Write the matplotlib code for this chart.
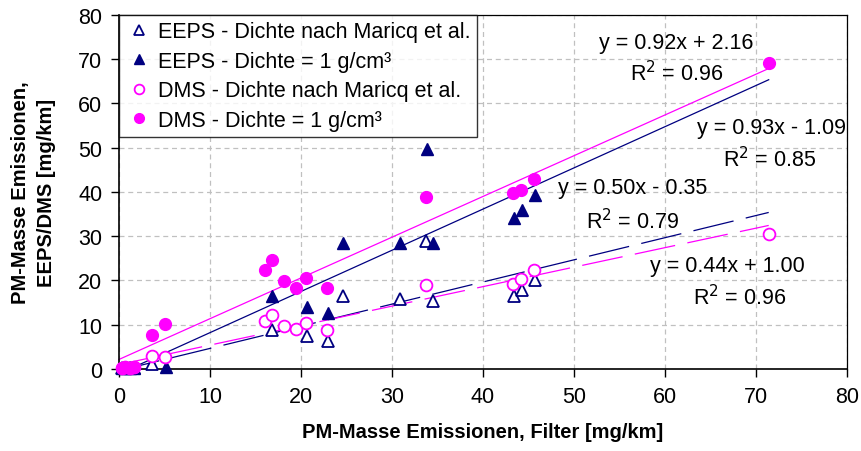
import numpy as np
import matplotlib
matplotlib.use("Agg")
import matplotlib.pyplot as plt

plt.rcParams["font.family"] = ["Liberation Sans", "DejaVu Sans"]

x_low = [0.3, 0.7, 1.2, 1.7]          # Punkte nahe Null
# EEPS - Dichte nach Maricq et al. (offene Dreiecke)
eeps_m_x = x_low + [3.6, 16.8, 20.7, 23.0, 24.6, 30.9, 33.7, 34.5, 43.4, 44.3, 45.7]
eeps_m_y = [0.2, 0.3, 0.2, 0.3] + [1.1, 8.8, 7.4, 6.3, 16.5, 15.8, 29.0, 15.4, 16.5, 17.8, 20.2]
# EEPS - Dichte = 1 g/cm3 (gefuellte Dreiecke)
eeps_1_x = x_low + [5.2, 16.8, 20.7, 23.0, 24.6, 30.9, 33.8, 34.5, 43.4, 44.3, 45.7]
eeps_1_y = [0.2, 0.3, 0.2, 0.3] + [0.5, 16.5, 13.9, 12.6, 28.4, 28.4, 49.7, 28.4, 34.0, 35.9, 39.3]
# DMS - Dichte nach Maricq et al. (offene Kreise)
dms_m_x = x_low + [3.6, 5.1, 16.0, 16.8, 18.1, 19.4, 20.6, 22.9, 33.7, 43.3, 44.2, 45.6, 71.4]
dms_m_y = [0.3, 0.4, 0.3, 0.4] + [2.9, 2.7, 10.8, 12.3, 9.8, 9.0, 10.3, 8.8, 19.0, 19.2, 20.3, 22.4, 30.5]
# DMS - Dichte = 1 g/cm3 (gefuellte Kreise)
dms_1_x = x_low + [3.6, 5.1, 16.0, 16.8, 18.1, 19.4, 20.6, 22.9, 33.7, 43.3, 44.2, 45.6, 71.4]
dms_1_y = [0.3, 0.4, 0.3, 0.4] + [7.7, 10.2, 22.3, 24.7, 19.9, 18.3, 20.6, 18.3, 38.8, 39.7, 40.5, 43.0, 69.1]

# Trendlinien (Steigung, Achsenabschnitt, R2) wie im Diagramm angegeben
fit_dms_1 = (0.92, 2.16, 0.96)
fit_eeps_1 = (0.93, -1.09, 0.85)
fit_eeps_m = (0.50, -0.35, 0.79)
fit_dms_m = (0.44, 1.00, 0.96)

navy = "#000080"
magenta = "#ff00ff"

fig = plt.figure(figsize=(8.61, 4.52), dpi=100)
ax = fig.add_axes([0.1382, 0.1814, 0.8455, 0.7839])

ax.set_xlim(0, 80)
ax.set_ylim(0, 80)
ax.set_xticks(np.arange(0, 81, 10))
ax.set_yticks(np.arange(0, 81, 10))
ax.grid(True, color="#c0c0c0", linestyle=(0, (4, 3)), linewidth=0.9)
ax.set_axisbelow(True)

# Trendlinien
xl = np.array([0, 71.4])
ax.plot(xl, fit_dms_1[0] * xl + fit_dms_1[1], color=magenta, lw=0.9, zorder=2)
ax.plot(xl, fit_eeps_1[0] * xl + fit_eeps_1[1], color=navy, lw=0.9, zorder=2)
ax.plot(xl, fit_eeps_m[0] * xl + fit_eeps_m[1], color=navy, lw=0.9,
        linestyle=(0, (33, 10)), zorder=2)
ax.plot(xl, fit_dms_m[0] * xl + fit_dms_m[1], color=magenta, lw=0.9,
        linestyle=(8, (33, 10)), zorder=2)

# Messpunkte
ax.plot(eeps_m_x, eeps_m_y, "^", ms=9, mfc="white", mec=navy, mew=1.3,
        ls="none", label="EEPS - Dichte nach Maricq et al.", zorder=3)
ax.plot(eeps_1_x, eeps_1_y, "^", ms=9, mfc=navy, mec=navy,
        ls="none", label="EEPS - Dichte = 1 g/cm³", zorder=3)
ax.plot(dms_m_x, dms_m_y, "o", ms=8.5, mfc="white", mec=magenta, mew=1.3,
        ls="none", label="DMS - Dichte nach Maricq et al.", zorder=3)
ax.plot(dms_1_x, dms_1_y, "o", ms=8.5, mfc=magenta, mec=magenta,
        ls="none", label="DMS - Dichte = 1 g/cm³", zorder=3)
for p in ax.lines:
    p.set_clip_on(False)

# Gleichungen
fs = 15.5
def eq_text(x, y, fit):
    s = "+" if fit[1] >= 0 else "-"
    ax.text(x, y, "y = %.2fx %s %.2f" % (fit[0], s, abs(fit[1])),
            ha="center", va="center", fontsize=fs, zorder=5)

eq_text(61.2, 73.8, fit_dms_1)
ax.text(61.3, 67.0, "R$^2$ = %.2f" % fit_dms_1[2], ha="center", va="center", fontsize=fs)
eq_text(71.7, 54.6, fit_eeps_1)
ax.text(71.5, 47.4, "R$^2$ = %.2f" % fit_eeps_1[2], ha="center", va="center", fontsize=fs)
eq_text(56.4, 40.9, fit_eeps_m)
ax.text(56.4, 33.6, "R$^2$ = %.2f" % fit_eeps_m[2], ha="center", va="center", fontsize=fs)
eq_text(66.9, 23.3, fit_dms_m)
ax.text(68.2, 16.3, "R$^2$ = %.2f" % fit_dms_m[2], ha="center", va="center", fontsize=fs)

ax.tick_params(direction="out", length=6, width=1, labelsize=fs, pad=6)
for sp in ax.spines.values():
    sp.set_linewidth(1.2)
ax.spines["top"].set_linewidth(0.9)
ax.spines["right"].set_linewidth(0.9)

ax.set_xlabel("PM-Masse Emissionen, Filter [mg/km]", fontsize=14.5,
              fontweight="bold", labelpad=11)
ax.set_ylabel("PM-Masse Emissionen,\nEEPS/DMS [mg/km]", fontsize=14.5,
              fontweight="bold", labelpad=16, linespacing=1.45)

leg = ax.legend(loc="upper left", bbox_to_anchor=(0, 1), fontsize=fs,
                frameon=True, fancybox=False, edgecolor="black",
                handlelength=1.3, handletextpad=0.2, borderpad=0.3,
                labelspacing=0.4, borderaxespad=0)
leg.get_frame().set_linewidth(1.0)
leg.set_zorder(6)
for h in leg.legend_handles:
    h.set_markersize(7)

fig.savefig("out.png", dpi=100)
